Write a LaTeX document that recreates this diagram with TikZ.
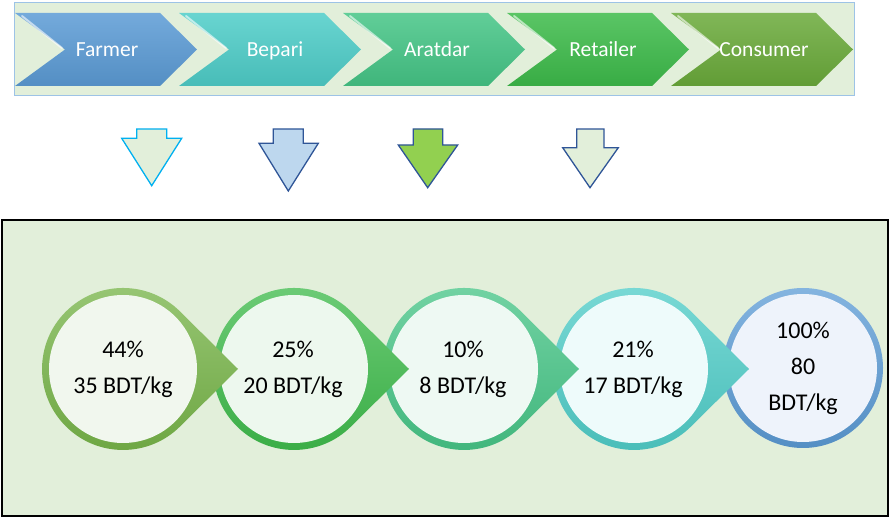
\documentclass[tikz,border=0pt]{standalone}
\usepackage{fontspec}
\setmainfont{Carlito}
\usepackage{xcolor}

\definecolor{panelgreen}{HTML}{E2EFDA}
\definecolor{frameblue}{HTML}{9DC3E6}
\definecolor{arrowcyan}{HTML}{00B0F0}
\definecolor{arrowdark}{HTML}{2F5597}
\definecolor{arrowblue}{HTML}{BDD7EE}
\definecolor{arrowlime}{HTML}{92D050}
\definecolor{farmerblue}{HTML}{5B9BD5}
\definecolor{beparicyan}{HTML}{4ECDC8}
\definecolor{aratdarteal}{HTML}{45C586}
\definecolor{retailergreen}{HTML}{3DBB4A}
\definecolor{consumerolive}{HTML}{6AAA3A}
\definecolor{ringolive}{HTML}{76B447}
\definecolor{innerolive}{HTML}{F1F7EE}
\definecolor{innergreen}{HTML}{EDF8EE}
\definecolor{innerteal}{HTML}{EEF9F3}
\definecolor{innercyan}{HTML}{EEFBFB}
\definecolor{innerblue}{HTML}{EEF3FB}

\tikzset{
  stagelabel/.style={text=white,font=\fontsize{21.5}{26}\selectfont,text height=0.7em,text depth=0.22em},
  pricetext/.style={align=center,font=\fontsize{24}{36}\selectfont},
  highlight/.style={white,line width=2pt,opacity=0.6,line cap=round}
}

\begin{document}
\begin{tikzpicture}[x=1pt,y=1pt]
    \useasboundingbox (0,0) rectangle (891,519);

    % Draw the top frame
    \draw[frameblue,line width=1pt,fill=panelgreen] (14,423) rectangle (854,516);

    % Draw the chevrons
    \shade[top color=farmerblue!85!white,bottom color=farmerblue!92!black] (15,506) -- (160,506) -- (197,469.5) -- (160,433) -- (15,433) -- (65,469.5) -- cycle;
    \shade[top color=beparicyan!85!white,bottom color=beparicyan!92!black] (179,506) -- (324,506) -- (361,469.5) -- (324,433) -- (179,433) -- (229,469.5) -- cycle;
    \shade[top color=aratdarteal!85!white,bottom color=aratdarteal!92!black] (343,506) -- (488,506) -- (525,469.5) -- (488,433) -- (343,433) -- (393,469.5) -- cycle;
    \shade[top color=retailergreen!85!white,bottom color=retailergreen!92!black] (507,506) -- (652,506) -- (689,469.5) -- (652,433) -- (507,433) -- (557,469.5) -- cycle;
    \shade[top color=consumerolive!85!white,bottom color=consumerolive!92!black] (671,506) -- (816,506) -- (853,469.5) -- (816,433) -- (671,433) -- (721,469.5) -- cycle;

    % Shine on the notches
    \draw[highlight] (22,503) -- (62,471);
    \draw[highlight] (186,503) -- (226,471);
    \draw[highlight] (350,503) -- (390,471);
    \draw[highlight] (514,503) -- (554,471);
    \draw[highlight] (678,503) -- (718,471);

    % Add the stage names
    \node[stagelabel] (farmer) at (107,465) {Farmer};
    \node[stagelabel] (bepari) at (275,465) {Bepari};
    \node[stagelabel] (aratdar) at (437,465) {Aratdar};
    \node[stagelabel] (retailer) at (603,465) {Retailer};
    \node[stagelabel] (consumer) at (764,465) {Consumer};

    % Draw the down arrows
    \draw[arrowcyan,line width=1.3pt,fill=panelgreen,line join=miter] (136.7,390) -- (166.7,390) -- (166.7,380.7) -- (181.7,380.7) -- (151.7,333.3) -- (121.7,380.7) -- (136.7,380.7) -- cycle;
    \draw[arrowdark,line width=1.3pt,fill=arrowblue,line join=miter] (273.3,390) -- (303.3,390) -- (303.3,375.7) -- (318.3,375.7) -- (288.3,328) -- (259,375.7) -- (273.3,375.7) -- cycle;
    \draw[arrowdark,line width=1.3pt,fill=arrowlime,line join=miter] (413.3,390) -- (442.7,390) -- (442.7,374) -- (457.7,374) -- (427.7,331.3) -- (398.3,374) -- (413.3,374) -- cycle;
    \draw[arrowdark,line width=1.3pt,fill=panelgreen,line join=miter] (576.7,390) -- (604,390) -- (604,371.3) -- (618.3,371.3) -- (590,331.3) -- (562.7,371.3) -- (576.7,371.3) -- cycle;

    % Draw the bottom box
    \draw[black,line width=1.6pt,fill=panelgreen] (2,3) rectangle (888,299);

    % Draw the price circles, last one first
    \shade[top color=farmerblue!75!white,bottom color=farmerblue!92!black] (803,151) circle (80);
    \fill[innerblue] (803,151) circle (74);

    \shade[top color=beparicyan!75!white,bottom color=beparicyan!92!black] (749,150) -- (691.3,207.3) arc[start angle=45,end angle=315,radius=81] -- cycle;
    \fill[innercyan] (634,150) circle (74);

    \shade[top color=aratdarteal!75!white,bottom color=aratdarteal!92!black] (579,150) -- (521.3,207.3) arc[start angle=45,end angle=315,radius=81] -- cycle;
    \fill[innerteal] (464,150) circle (74);

    \shade[top color=retailergreen!75!white,bottom color=retailergreen!92!black] (409,150) -- (351.3,207.3) arc[start angle=45,end angle=315,radius=81] -- cycle;
    \fill[innergreen] (294,150) circle (74);

    \shade[top color=ringolive!75!white,bottom color=ringolive!92!black] (238,150) -- (180.3,207.3) arc[start angle=45,end angle=315,radius=81] -- cycle;
    \fill[innerolive] (123,150) circle (74);

    % Add the prices
    \node[pricetext] (farmerprice) at (123,150) {44\%\\35 BDT/kg};
    \node[pricetext] (bepariprice) at (293,150) {25\%\\20 BDT/kg};
    \node[pricetext] (aratdarprice) at (463,150) {10\%\\8 BDT/kg};
    \node[pricetext] (retailerprice) at (633,150) {21\%\\17 BDT/kg};
    \node[pricetext] (consumerprice) at (803,151) {100\%\\80\\BDT/kg};
\end{tikzpicture}
\end{document}
